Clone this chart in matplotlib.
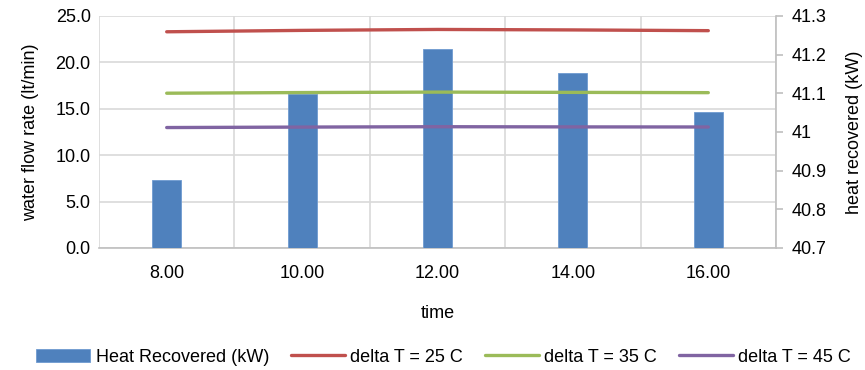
import numpy as np
import matplotlib
matplotlib.use('Agg')
from matplotlib import pyplot as plt

plt.rcParams['font.family'] = ['Liberation Sans', 'DejaVu Sans']
plt.rcParams['font.size'] = 13

# data
times = ['8.00', '10.00', '12.00', '14.00', '16.00']
heat_recovered = [40.875, 41.098, 41.215, 41.152, 41.052]   # kW, right axis
flow_dt25 = [23.30, 23.45, 23.55, 23.50, 23.42]            # lt/min, left axis
flow_dt35 = [16.68, 16.75, 16.80, 16.77, 16.74]
flow_dt45 = [12.98, 13.03, 13.07, 13.05, 13.04]

x = np.arange(1, len(times) + 1)
grid_col = '#D9D9D9'
axis_col = '#BFBFBF'

fig = plt.figure(figsize=(8.65, 3.7), dpi=100)
pos = [99 / 865, 122 / 370, 677 / 865, 232 / 370]

# base axes: left scale, grid, x labels
ax = fig.add_axes(pos)
ax.set_xlim(0.5, 5.5)
ax.set_ylim(0, 25)
ax.set_yticks(np.arange(0, 26, 5))
ax.set_yticklabels([f'{v:.1f}' for v in np.arange(0, 26, 5)])
ax.set_xticks(x)
ax.set_xticklabels(times)
ax.set_xticks(np.arange(0.5, 6, 1), minor=True)
ax.tick_params(axis='both', which='both', length=0)
ax.tick_params(axis='x', pad=12)
ax.tick_params(axis='y', pad=6)
ax.grid(True, axis='y', color=grid_col, lw=1.2)
ax.grid(True, axis='x', which='minor', color=grid_col, lw=1.2)
for s in ['left', 'right', 'top']:
    ax.spines[s].set_visible(False)
ax.spines['bottom'].set_color(axis_col)
ax.spines['bottom'].set_linewidth(1.2)
ax.set_ylabel('water flow rate (lt/min)', labelpad=12)
ax.set_xlabel('time', labelpad=17)

# bars on right scale
ax2 = ax.twinx()
ax2.patch.set_visible(False)
bars = ax2.bar(x, heat_recovered, width=0.215, bottom=0, color='#4F81BD',
               edgecolor='#6F9BD1', lw=0.6, label='Heat Recovered (kW)')
ax2.set_ylim(40.7, 41.3)
ax2.set_yticks(np.round(np.arange(40.7, 41.31, 0.1), 1))
ax2.set_yticklabels(['40.7', '40.8', '40.9', '41', '41.1', '41.2', '41.3'])
ax2.tick_params(axis='y', length=5, color=axis_col, width=1.2, pad=6)
for s in ['left', 'top', 'bottom']:
    ax2.spines[s].set_visible(False)
ax2.spines['right'].set_color(axis_col)
ax2.spines['right'].set_linewidth(1.2)
ax2.set_ylabel('heat recovered (kW)', rotation=90, labelpad=14)

# lines on top, left scale
ax3 = fig.add_axes(pos, sharex=ax, sharey=ax)
ax3.axis('off')
l1, = ax3.plot(x, flow_dt25, color='#C0504D', lw=2.4, solid_capstyle='round', label='delta T = 25 C')
l2, = ax3.plot(x, flow_dt35, color='#9BBB59', lw=2.4, solid_capstyle='round', label='delta T = 35 C')
l3, = ax3.plot(x, flow_dt45, color='#8064A2', lw=2.4, solid_capstyle='round', label='delta T = 45 C')

fig.legend(handles=[bars, l1, l2, l3], loc='lower center', bbox_to_anchor=(0.513, -0.032),
           ncol=4, frameon=False, handlelength=3.0, handleheight=0.75,
           columnspacing=1.2, handletextpad=0.3, fontsize=13)

fig.savefig('out.png', dpi=100)
